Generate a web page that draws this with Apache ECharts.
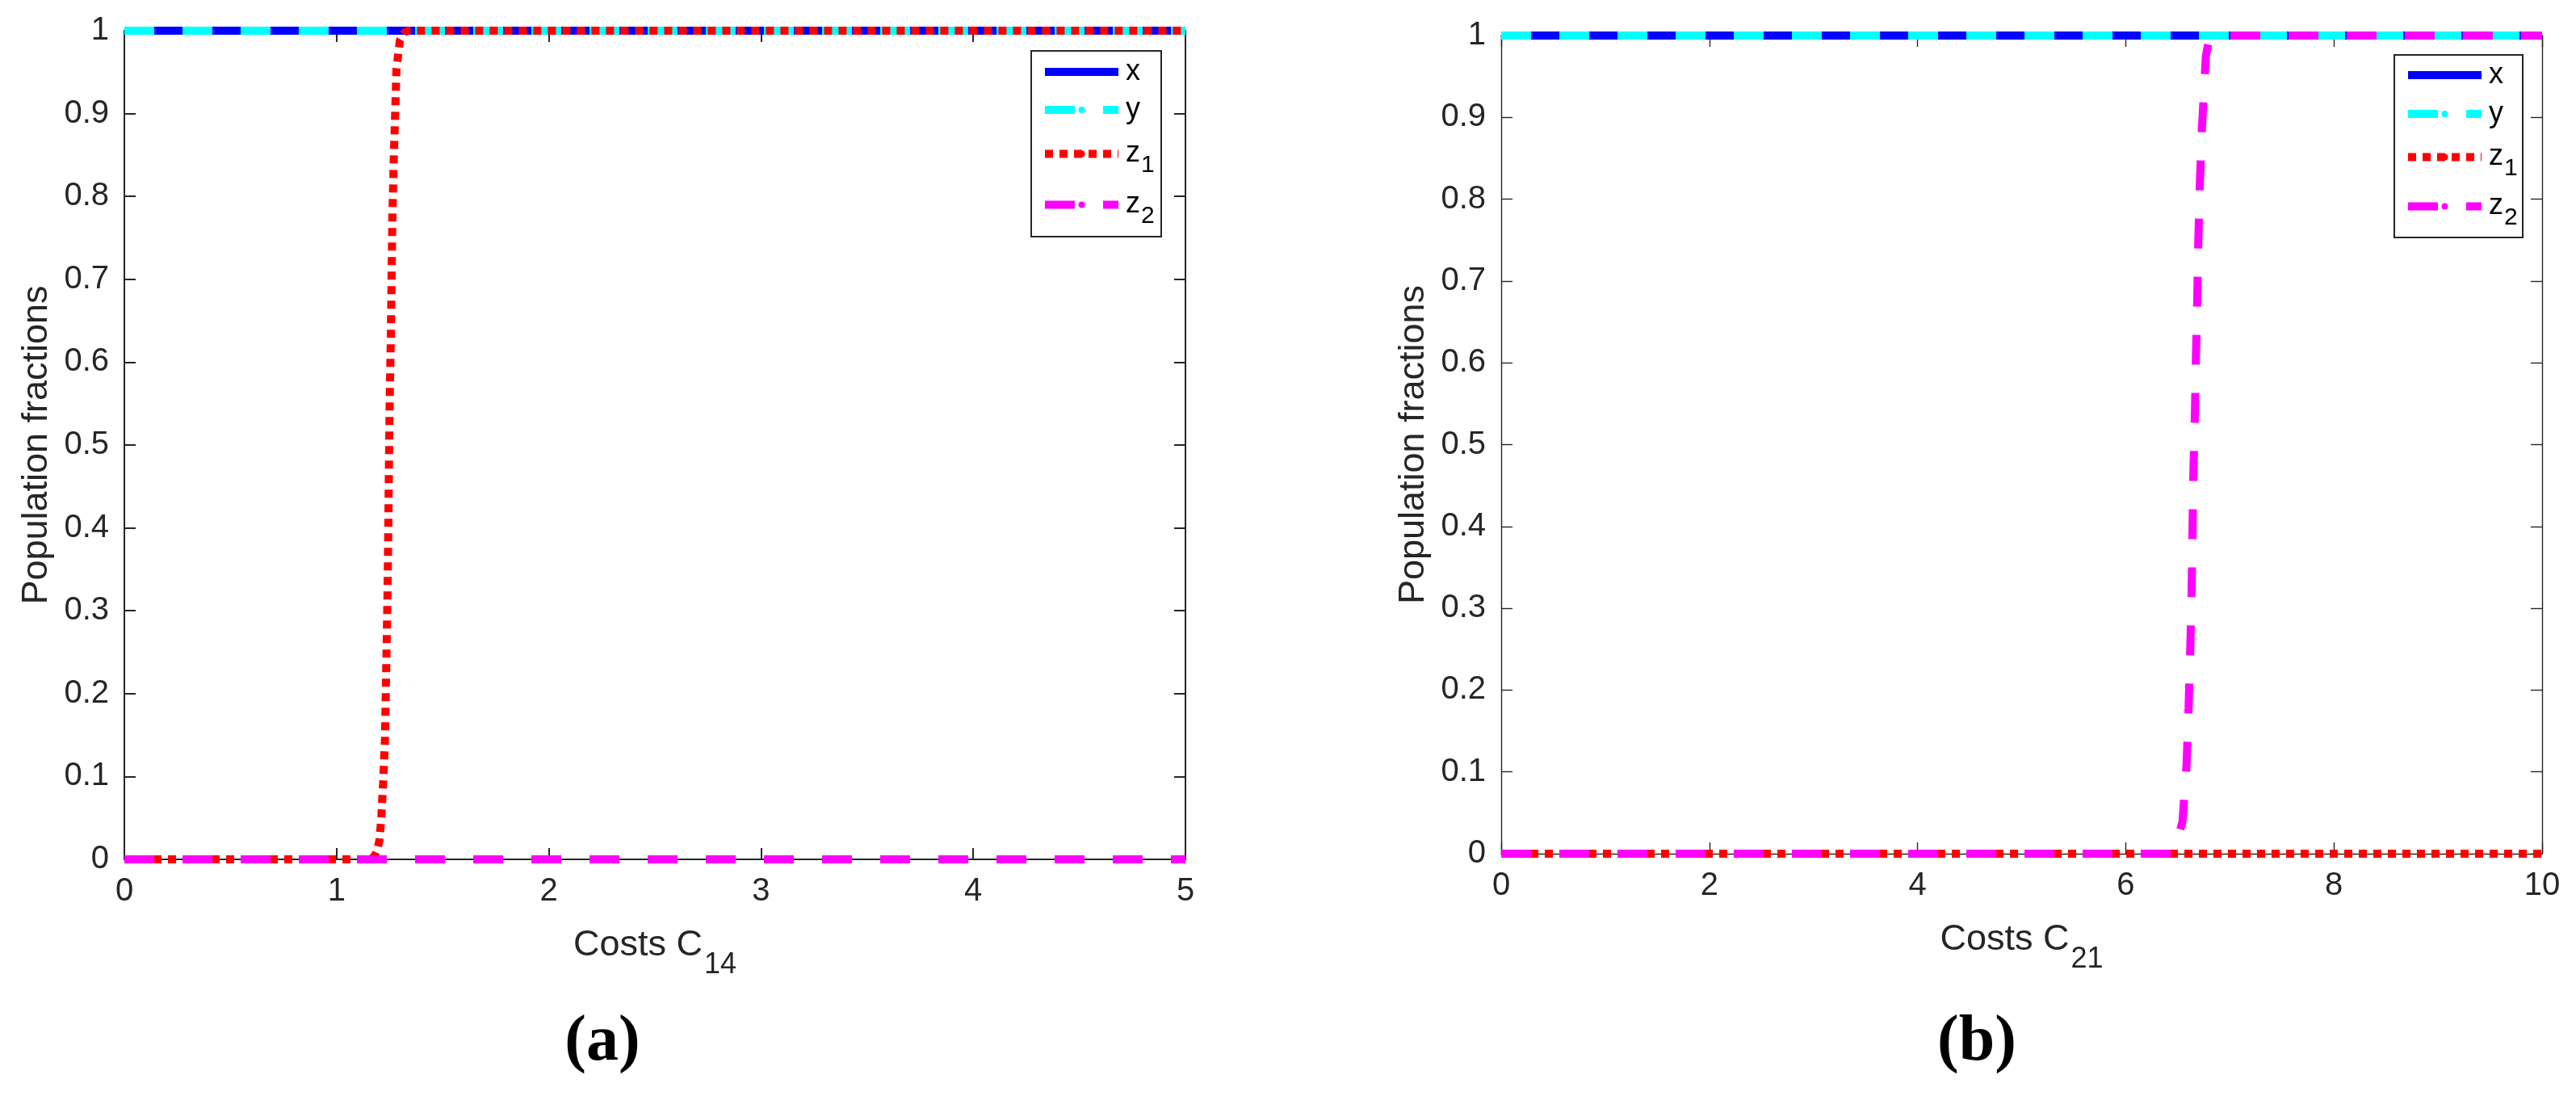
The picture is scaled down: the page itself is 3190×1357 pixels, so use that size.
<!DOCTYPE html>
<html>
<head>
<meta charset="utf-8">
<script src="https://cdn.jsdelivr.net/npm/echarts@6/dist/echarts.min.js"></script>
<style>
  html, body { margin: 0; padding: 0; background: #fff; }
  #chart { width: 3190px; height: 1357px; }
</style>
</head>
<body>
<div id="chart"></div>
<script>
// panel (a): costs C14
const c14Ends = [0, 5]
const xA = [1, 1]
const yA = [1, 1]
const z2A = [0, 0]
const c14 = [0, 1.15, 1.177, 1.19, 1.202, 1.211, 1.219, 1.228, 1.234, 1.240, 1.244, 1.247,
  1.251, 1.256, 1.259, 1.263, 1.270, 1.276, 1.282, 1.298, 1.320, 1.339, 5]
const z1A = [0, 0, 0.003, 0.01, 0.023, 0.051, 0.091, 0.144, 0.232, 0.319, 0.406, 0.48,
  0.567, 0.634, 0.70, 0.775, 0.85, 0.90, 0.953, 0.988, 0.998, 1, 1]

// panel (b): costs C21
const c21Ends = [0, 10]
const xB = [1, 1]
const yB = [1, 1]
const z1B = [0, 0]
const c21 = [0, 6.46, 6.545, 6.584, 6.604, 6.620, 6.633, 6.641, 6.649, 6.664, 6.674, 6.687,
  6.697, 6.711, 6.732, 6.770, 6.80, 6.83, 10]
const z2B = [0, 0, 0.039, 0.108, 0.178, 0.25, 0.319, 0.389, 0.46, 0.533, 0.604, 0.676,
  0.747, 0.816, 0.886, 0.975, 0.995, 1, 1]

const legendNames = ['x', 'y', 'z1', 'z2']
const yTicks = { min: 0, max: 1, interval: 0.1 }

const FONT = '"Liberation Sans", Arial, Helvetica, sans-serif'
const INK = '#262626'

const pts = (xs, ys) => xs.map((v, i) => [v, ys[i]])

const styles = {
  x: { color: '#0000ff', type: 'solid' },
  y: { color: '#00ffff', type: [37, 35] },
  z1: { color: '#ff0000', type: [10, 8] },
  z2: { color: '#ff00ff', type: [37, 35] }
}

const line = (name, axis, data) => ({
  name,
  type: 'line',
  xAxisIndex: axis * 2,
  yAxisIndex: axis * 2,
  data,
  symbol: 'none',
  clip: false,
  silent: true,
  itemStyle: { color: styles[name].color },
  lineStyle: { color: styles[name].color, width: 10, type: styles[name].type, cap: 'butt' }
})

const axes = (grid, max, interval, sub, lw) => {
  const lineStyle = { color: INK, width: lw }
  const tick = { show: true, inside: true, length: 14, lineStyle }
  const x = [
    {
      type: 'value', gridIndex: grid, position: 'bottom', min: 0, max, interval,
      axisLine: { show: true, onZero: false, lineStyle },
      axisTick: tick,
      splitLine: { show: false },
      axisLabel: { fontSize: 40, color: INK, fontFamily: FONT, margin: 20 },
      name: 'Costs C{s|' + sub + '}',
      nameLocation: 'middle',
      nameGap: 49,
      nameTextStyle: {
        fontSize: 45, lineHeight: 50, color: INK, fontFamily: FONT,
        rich: { s: { fontSize: 36, lineHeight: 36, color: INK, fontFamily: FONT, padding: [48, 0, 0, 2] } }
      }
    },
    {
      type: 'value', gridIndex: grid, position: 'top', min: 0, max, interval,
      axisLine: { show: true, onZero: false, lineStyle },
      axisTick: tick,
      splitLine: { show: false },
      axisLabel: { show: false }
    }
  ]
  const y = [
    {
      type: 'value', gridIndex: grid, position: 'left', ...yTicks,
      axisLine: { show: true, onZero: false, lineStyle },
      axisTick: tick,
      splitLine: { show: false },
      axisLabel: { fontSize: 40, color: INK, fontFamily: FONT, margin: 19 },
      name: 'Population fractions',
      nameLocation: 'middle',
      nameGap: 86,
      nameTextStyle: { fontSize: 45, color: INK, fontFamily: FONT }
    },
    {
      type: 'value', gridIndex: grid, position: 'right', ...yTicks,
      axisLine: { show: true, onZero: false, lineStyle },
      axisTick: tick,
      splitLine: { show: false },
      axisLabel: { show: false }
    }
  ]
  return { x, y }
}

// one legend per entry so each row sits where the reference puts it
const legendRow = (name, left, centerY) => {
  const tall = name.length > 1
  return {
    orient: 'vertical',
    left,
    top: centerY - (tall ? 32 : 20),
    padding: 0,
    itemWidth: 91,
    itemHeight: 10,
    selectedMode: false,
    data: [name],
    lineStyle: { width: 10 },
    formatter: n => n.length > 1 ? '{bz|' + n[0] + '}{s|' + n[1] + '}' : '{b|' + n + '}',
    textStyle: {
      color: '#000',
      fontFamily: FONT,
      rich: {
        b: { fontSize: 36, lineHeight: 40, fontFamily: FONT, color: '#000', padding: [0, 0, 0, 4] },
        bz: { fontSize: 36, lineHeight: 64, fontFamily: FONT, color: '#000', padding: [0, 0, 0, 4] },
        s: { fontSize: 30, lineHeight: 30, fontFamily: FONT, color: '#000', padding: [29, 0, 0, 1] }
      }
    }
  }
}

const legendBox = (x, y, width, height) => ({
  type: 'rect',
  shape: { x, y, width, height },
  style: { fill: 'none', stroke: INK, lineWidth: 2 },
  silent: true
})

const rowsA = [91, 138, 193, 256]
const rowsB = [95, 143, 197, 258]

const a = axes(0, 5, 1, '14', 2)
const b = axes(1, 10, 2, '21', 1.4)

const option = {
  animation: false,
  backgroundColor: '#fff',
  grid: [
    { left: 154, top: 38, width: 1314, height: 1026 },
    { left: 1859, top: 44, width: 1289, height: 1013 }
  ],
  xAxis: [...a.x, ...b.x],
  yAxis: [...a.y, ...b.y],
  legend: [
    ...legendNames.map((n, i) => legendRow(n, 1289, rowsA[i])),
    ...legendNames.map((n, i) => legendRow(n, 2977, rowsB[i]))
  ],
  series: [
    line('x', 0, pts(c14Ends, xA)),
    line('y', 0, pts(c14Ends, yA)),
    line('z1', 0, pts(c14, z1A)),
    line('z2', 0, pts(c14Ends, z2A)),
    line('x', 1, pts(c21Ends, xB)),
    line('y', 1, pts(c21Ends, yB)),
    line('z1', 1, pts(c21Ends, z1B)),
    line('z2', 1, pts(c21, z2B))
  ],
  graphic: [
    legendBox(1277, 63, 161, 230),
    legendBox(2965, 68, 159, 226),
    { type: 'text', x: 746, y: 1291, style: { text: '(a)', align: 'center', verticalAlign: 'middle',
      font: 'bold 80px "Liberation Serif", "Times New Roman", serif', fill: '#000' } },
    { type: 'text', x: 2448, y: 1291, style: { text: '(b)', align: 'center', verticalAlign: 'middle',
      font: 'bold 80px "Liberation Serif", "Times New Roman", serif', fill: '#000' } }
  ]
}

const chart = echarts.init(document.getElementById('chart'))
chart.setOption(option)
window.addEventListener('resize', () => chart.resize())
</script>
</body>
</html>
